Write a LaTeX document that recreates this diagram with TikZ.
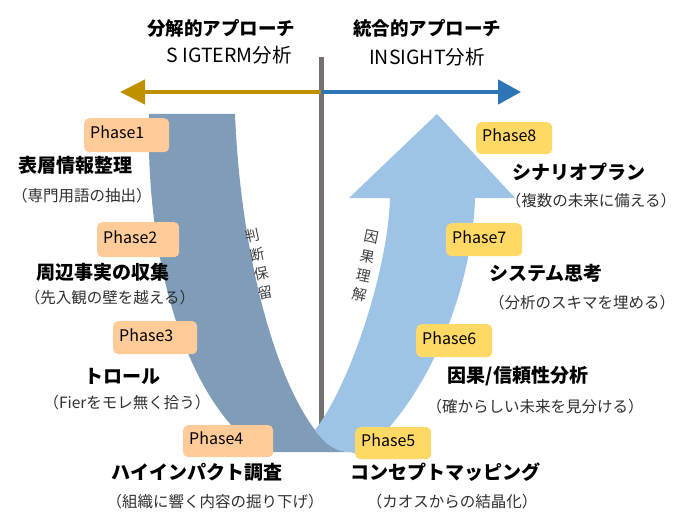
\documentclass[tikz,border=0pt]{standalone}
\usepackage{fontspec}
\setmainfont{Noto Sans CJK JP}
\usetikzlibrary{arrows.meta}
\definecolor{darkband}{HTML}{7F9DB9}
\definecolor{lightband}{HTML}{9DC3E6}
\definecolor{peach}{HTML}{FFCC99}
\definecolor{goldbox}{HTML}{FFD966}
\definecolor{goldarrow}{HTML}{BF9000}
\definecolor{bluearrow}{HTML}{2E75B6}
\definecolor{axisgray}{HTML}{767171}
\definecolor{notegray}{HTML}{303030}
\definecolor{vgray}{HTML}{404040}
\begin{document}
\begin{tikzpicture}[x=1pt,y=-1pt,
  title/.style={font=\bfseries\fontsize{18.5}{21}\selectfont},
  subtitle/.style={font=\fontsize{19.5}{22}\selectfont},
  lbl/.style={font=\bfseries\fontsize{19}{22}\selectfont, inner sep=0pt},
  note/.style={font=\fontsize{15.5}{18}\selectfont, text=notegray, inner sep=0pt},
  vtext/.style={font=\fontsize{14.5}{19.5}\selectfont, text=vgray, align=center, inner sep=0pt},
  phasebox/.style={rounded corners=5pt, anchor=north west, inner xsep=6pt, inner ysep=0pt,
     font=\fontsize{16}{18}\selectfont, align=left, text height=12pt, text depth=5pt},
  bigarrow/.style={line width=4.5pt}
]
\useasboundingbox (0,0) rectangle (677,524);

% axis line
\coordinate (axtop) at (321,57);
\coordinate (axbot) at (321,452);
\draw[axisgray, line width=5pt] (axtop) -- (axbot);

% arrows
\coordinate (ac) at (321,92);
\coordinate (ltip) at (120,92);
\coordinate (rtip) at (521,92);
\draw[bigarrow, goldarrow, -{Triangle[length=25pt,width=24pt]}] (ac) -- (ltip);
\draw[bigarrow, bluearrow, -{Triangle[length=23pt,width=24pt]}] (ac) -- (rtip);

% dark band (left)
\fill[darkband] (149,114) -- (235,114)
  .. controls (240,240) and (270,370) .. (315,430)
  .. controls (325,445) and (338,452) .. (350,452)
  -- (262,452)
  .. controls (195,410) and (145,280) .. (149,114) -- cycle;

% light band (right arrow)
\fill[lightband] (437,114) -- (515,198) -- (475,198)
  .. controls (472,300) and (420,410) .. (360,455)
  -- (350,452)
  .. controls (338,452) and (325,445) .. (315,430)
  .. controls (350,385) and (388,270) .. (390,198)
  -- (349,198) -- cycle;

% vertical texts
\node[vtext, rotate=12] (v1) at (259,264) {判\\断\\保\\留};
\node[vtext, rotate=-12] (v2) at (366,266) {因\\果\\理\\解};

% headers
\node[title] (h1) at (221,28) {分解的アプローチ};
\node[subtitle] (h1s) at (229,55) {S IGTERM分析};
\node[title] (h2) at (427,28) {統合的アプローチ};
\node[subtitle] (h2s) at (427,57) {INSIGHT分析};

% phase boxes
\node[phasebox, fill=peach, text width=73pt, minimum height=34pt] (p1) at (84,118) {Phase1};
\node[phasebox, fill=peach, text width=70pt, minimum height=35pt] (p2) at (97,222) {Phase2};
\node[phasebox, fill=peach, text width=72pt, minimum height=33pt] (p3) at (113,321) {Phase3};
\node[phasebox, fill=peach, text width=78pt, minimum height=32pt] (p4) at (183,425) {Phase4};
\node[phasebox, fill=goldbox, text width=64pt, minimum height=32pt] (p5) at (355,427) {Phase5};
\node[phasebox, fill=goldbox, text width=64pt, minimum height=33pt] (p6) at (416,324) {Phase6};
\node[phasebox, fill=goldbox, text width=64pt, minimum height=33pt] (p7) at (446,223) {Phase7};
\node[phasebox, fill=goldbox, text width=64pt, minimum height=32pt] (p8) at (476,122) {Phase8};

% left labels
\node[lbl] (l1) at (75,165) {表層情報整理};
\node[note] (n1) at (82,196) {（専門用語の抽出）};
\node[lbl] (l2) at (103,272) {周辺事実の収集};
\node[note] (n2) at (110,298) {（先入観の壁を越える）};
\node[lbl] (l3) at (122,376) {トロール};
\node[note] (n3) at (127,403) {（Fierをモレ無く拾う）};
\node[lbl] (l4) at (197,472) {ハイインパクト調査};
\node[note] (n4) at (215,502) {（組織に響く内容の掘り下げ）};

% right labels
\node[lbl] (r8) at (579,172) {シナリオプラン};
\node[note] (m8) at (591,201) {（複数の未来に備える）};
\node[lbl] (r7) at (546,273) {システム思考};
\node[note] (m7) at (582,303) {（分析のスキマを埋める）};
\node[lbl] (r6) at (518,376) {因果/信頼性分析};
\node[note] (m6) at (535,407) {（確からしい未来を見分ける）};
\node[lbl] (r5) at (445,472) {コンセプトマッピング};
\node[note] (m5) at (452,502) {（カオスからの結晶化）};
\end{tikzpicture}
\end{document}
